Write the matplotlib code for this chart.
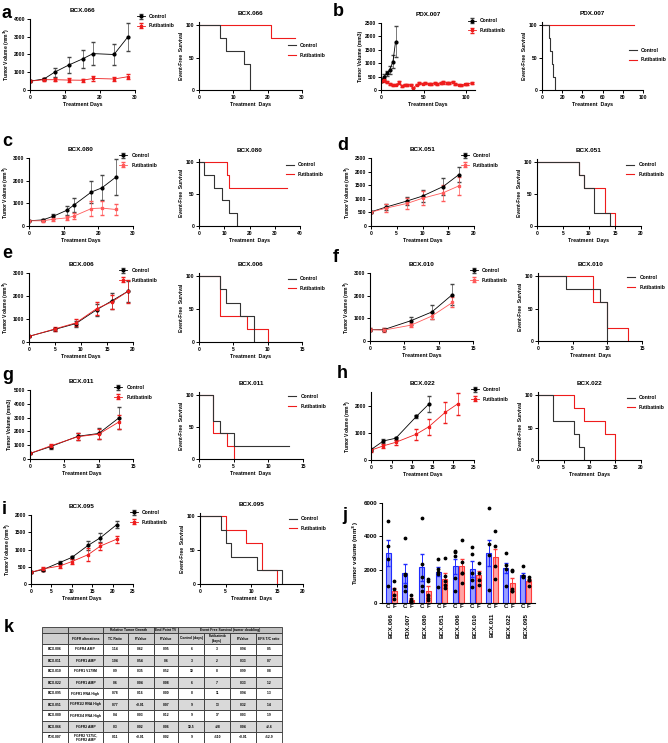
import numpy as np
import matplotlib.pyplot as plt
from matplotlib.transforms import blended_transform_factory

plt.rcParams['font.family'] = ['Liberation Sans', 'DejaVu Sans']
plt.rcParams['font.weight'] = 'bold'
plt.rcParams['axes.labelweight'] = 'bold'
plt.rcParams['axes.titleweight'] = 'bold'

W, H = 668, 743
RED = '#ee1c1c'
PINK = '#ff5a5a'

# ---- a: BCX.066
a_days = [0, 4, 7, 11, 15, 18, 24, 28]
a_ctrl = [500, 620, 1000, 1400, 1750, 2050, 2000, 3000]
a_ctrl_err = [50, 80, 250, 450, 500, 650, 600, 800]
a_futi = [500, 580, 580, 560, 550, 650, 620, 750]
a_futi_err = [50, 80, 100, 100, 80, 120, 120, 150]
a_km_ct = [0, 6, 8, 13, 15]
a_km_cs = [100, 80, 60, 40, 0]
a_km_ft = [0, 21, 28]
a_km_fs = [100, 80, 80]

# ---- b: PDX.007
b_days_c = [0, 3, 7, 10, 14, 17]
b_ctrl = [330, 480, 620, 750, 1060, 1800]
b_ctrl_err = [50, 100, 100, 150, 250, 580]
b_days_f = [0, 3, 7, 10, 14, 17, 21, 24, 28, 31, 35, 38, 42, 45, 49, 52, 56,
            59, 63, 66, 70, 73, 77, 80, 84, 87, 91, 94, 98, 101, 106]
b_futi = [330, 360, 300, 220, 190, 200, 280, 150, 200, 180, 200, 80, 200, 250,
          240, 250, 240, 230, 250, 220, 270, 280, 260, 260, 300, 230, 200, 170,
          210, 220, 260]
b_futi_err = [40, 50, 40, 30, 30, 30, 40, 30, 30, 30, 30, 20, 30, 30, 30, 30,
              30, 30, 30, 30, 40, 40, 30, 30, 40, 30, 30, 30, 30, 30, 40]
b_km_ct = [0, 7, 8, 10, 11, 13]
b_km_cs = [100, 80, 60, 40, 20, 0]
b_km_ft = [0, 91]
b_km_fs = [100, 100]

# ---- c: BCX.080
c_days = [0, 4, 7, 11, 13, 18, 21, 25]
c_ctrl = [230, 270, 430, 700, 930, 1500, 1680, 2150]
c_ctrl_err = [30, 50, 100, 200, 300, 500, 550, 800]
c_futi = [230, 230, 300, 360, 440, 770, 790, 730]
c_futi_err = [30, 40, 80, 100, 150, 350, 300, 250]
c_km_ct = [0, 2, 6, 9, 12, 15]
c_km_cs = [100, 80, 60, 40, 20, 0]
c_km_ft = [0, 11, 12, 35]
c_km_fs = [100, 80, 60, 60]

# ---- d: BCX.051
d_days = [0, 3, 7, 10, 14, 17]
d_ctrl = [520, 700, 920, 1100, 1450, 1880]
d_ctrl_err = [30, 120, 150, 220, 300, 280]
d_futi = [510, 660, 830, 1020, 1220, 1470]
d_futi_err = [30, 150, 200, 250, 300, 330]
d_km_ct = [0, 8, 9, 11, 14]
d_km_cs = [100, 80, 60, 20, 0]
d_km_ft = [0, 8, 9, 13, 15]
d_km_fs = [100, 80, 60, 20, 0]

# ---- e: BCX.006
e_days = [0, 5, 9, 13, 16, 19]
e_ctrl = [250, 550, 800, 1400, 1800, 2200]
e_ctrl_err = [30, 80, 130, 250, 350, 450]
e_futi = [240, 570, 830, 1450, 1750, 2200]
e_futi_err = [30, 80, 150, 280, 300, 500]
e_km_ct = [0, 3, 4, 6, 8]
e_km_cs = [100, 80, 60, 40, 0]
e_km_ft = [0, 3, 7, 10]
e_km_fs = [100, 40, 20, 0]

# ---- f: BCX.010
f_days = [0, 2, 6, 9, 12]
f_ctrl = [500, 500, 900, 1280, 2050]
f_ctrl_err = [80, 80, 180, 300, 450]
f_futi = [500, 480, 700, 1100, 1700]
f_futi_err = [80, 80, 80, 150, 220]
f_km_ct = [0, 4, 9, 10]
f_km_cs = [100, 80, 60, 0]
f_km_ft = [0, 8, 10, 13]
f_km_fs = [100, 60, 20, 0]

# ---- g: BCX.011
g_days = [0, 3, 7, 10, 13]
g_ctrl = [400, 900, 1650, 1850, 3000]
g_ctrl_err = [50, 150, 250, 400, 800]
g_futi = [400, 950, 1620, 1800, 2700]
g_futi_err = [50, 120, 250, 350, 500]
g_km_ct = [0, 2, 3, 5, 13]
g_km_cs = [100, 60, 40, 20, 20]
g_km_ft = [0, 2, 4, 5]
g_km_fs = [100, 40, 20, 0]

# ---- h: BCX.022
h_days_c = [0, 3, 6, 11, 14]
h_ctrl = [380, 700, 800, 1600, 2050]
h_ctrl_err = [50, 60, 60, 60, 300]
h_days_f = [0, 3, 6, 11, 14, 18, 21]
h_futi = [360, 520, 650, 950, 1220, 1750, 2060]
h_futi_err = [50, 80, 100, 200, 300, 400, 420]
h_km_ct = [0, 3, 7, 8, 9]
h_km_cs = [100, 60, 40, 20, 0]
h_km_ft = [0, 7, 9, 13, 15]
h_km_fs = [100, 80, 60, 40, 0]

# ---- i: BCX.095
i_days = [0, 3, 7, 10, 14, 17, 21]
i_ctrl = [340, 420, 620, 770, 1120, 1340, 1720]
i_ctrl_err = [30, 40, 40, 50, 120, 130, 110]
i_futi = [340, 440, 520, 650, 850, 1100, 1300]
i_futi_err = [30, 50, 60, 80, 180, 100, 100]
i_km_ct = [0, 4, 5, 6, 11, 16]
i_km_cs = [100, 80, 60, 40, 20, 0]
i_km_ft = [0, 5, 9, 12, 15]
i_km_fs = [100, 80, 60, 20, 0]

# ---- j: end point tumor volume
j_models = ['BCX.066', 'PDX.007', 'BCX.080', 'BCX.051', 'BCX.006',
            'BCX.010', 'BCX.011', 'BCX.022', 'BCX.095']
j_ctrl_mean = [3000, 1800, 2150, 1880, 2200, 2050, 3000, 2080, 1700]
j_ctrl_err = [800, 570, 800, 280, 450, 480, 800, 300, 110]
j_futi_mean = [730, 200, 720, 1470, 2200, 1700, 2750, 1230, 1350]
j_futi_err = [200, 100, 300, 330, 450, 220, 500, 300, 100]
j_ctrl_pts = [[4950, 3400, 2650, 1000], [3900, 1750, 1700, 1000, 700],
              [5100, 2350, 1550, 1000, 750], [2650, 2050, 1850, 1750, 950],
              [3150, 3050, 2800, 1500, 700], [3350, 2950, 1800, 1400, 950],
              [5700, 3550, 2900, 800], [3000, 2300, 2050, 1050],
              [2200, 1650, 1600, 1550]]
j_futi_pts = [[1350, 850, 500, 250], [480, 250, 150, 100, 50],
              [1450, 1350, 500, 300, 200], [2700, 1600, 1300, 1100, 900],
              [3800, 2450, 1800, 1800, 1200], [2400, 1800, 1400, 1100],
              [4300, 3400, 2200, 1450], [2000, 1900, 850, 750, 700],
              [1550, 1400, 1400, 1000]]

# ---- k: table
k_group_head = ['', '', 'Relative Tumor Growth', 'End Point TV',
                'Event Free Survival (tumor doubling)']
k_head = ['', 'FGFR alterations', 'TC Ratio', 'P-Value', 'P-Value',
          'Control (days)', 'Futibatinib\n(days)', 'P-Value', 'EFS T/C ratio']
k_rows = [
    ['BCX.006', 'FGFR4 AMP', '1.14', '0.62', '0.95', '6', '3', '0.94', '0.5'],
    ['BCX.011', 'FGFR1 AMP', '1.04', '0.54', '0.6', '3', '2', '0.33', '0.7'],
    ['BCX.010', 'FGFR1 V179M', '0.9', '0.35', '0.52', '10', '8', '0.99', '0.8'],
    ['BCX.022', 'FGFR1 AMP', '0.6', '0.04', '0.08', '6', '7', '0.33', '1.2'],
    ['BCX.095', 'FGFR1 RNA High', '0.78', '0.16', '0.00', '8', '11', '0.94', '1.3'],
    ['BCX.051', 'FGFR1/2 RNA High', '0.77', '<0.01', '0.07', '9', '13', '0.32', '1.4'],
    ['BCX.080', 'FGFR3/4 RNA High', '0.4', '0.03', '0.12', '9', '17', '0.03', '1.9'],
    ['BCX.066', 'FGFR2 AMP', '0.3', '0.02', '0.06', '10.5', '>28', '0.04', '>2.6'],
    ['PDX.007', 'FGFR2 Y375C,\nFGFR2 AMP', '0.11', '<0.01', '0.02', '9', '>110', '<0.01', '>12.9'],
]
k_col_px = [26, 35, 25, 26, 25, 26, 26, 26, 26]


def box(x0, y0, x1, y1):
    return [x0 / W, 1 - y1 / H, (x1 - x0) / W, (y1 - y0) / H]


def style(ax, fs=3.6):
    for s in ['top', 'right']:
        ax.spines[s].set_visible(False)
    for s in ['left', 'bottom']:
        ax.spines[s].set_linewidth(0.8)
    ax.tick_params(direction='out', length=2, width=0.7, labelsize=fs, pad=1.5)


def tumor(ax, title, dc, yc, ec, df, yf, ef, xmax, xstep, ymax, ystep,
          ylab='Tumor Volume (mm$^3$)', fcol=RED, legx=0.78):
    ax.errorbar(dc, yc, yerr=ec, color='k', marker='o', ms=2, lw=0.6,
                elinewidth=0.5, ecolor='#444444', capsize=1.2, label='Control')
    ax.errorbar(df, yf, yerr=ef, color=fcol, marker='s', ms=2, lw=0.6,
                elinewidth=0.5, capsize=1.2, label='Futibatinib')
    ax.set_xlim(0, xmax)
    ax.set_ylim(0, ymax)
    ax.set_xticks(np.arange(0, xmax + 0.1, xstep))
    ax.set_yticks(np.arange(0, ymax + 1, ystep))
    ax.set_title(title, fontsize=4.6, pad=5)
    ax.set_xlabel('Treatment Days', fontsize=3.8, labelpad=1.5)
    ax.set_ylabel(ylab, fontsize=3.6, labelpad=1.5)
    style(ax)
    ax.legend(loc='upper left', bbox_to_anchor=(legx, 1.1), frameon=False,
              fontsize=3.6, handlelength=1.6, borderaxespad=0, labelspacing=0.9)


def km(ax, title, tc, sc, tf, sf, xmax, xstep, fcol=RED, legy=0.95):
    ax.step(tf, sf, where='post', color=fcol, lw=0.8, label='Futibatinib')
    ax.step(tc, sc, where='post', color='#333333', lw=0.8, label='Control')
    ax.set_xlim(0, xmax)
    ax.set_ylim(0, 105)
    ax.set_xticks(np.arange(0, xmax + 0.1, xstep))
    ax.set_yticks([0, 50, 100])
    ax.set_title(title, fontsize=4.6, pad=5)
    ax.set_xlabel('Treatment  Days', fontsize=3.8, labelpad=1.5)
    ax.set_ylabel('Event-Free  Survival', fontsize=3.6, labelpad=1.5)
    style(ax)
    hs, ls = ax.get_legend_handles_labels()
    ax.legend(hs[::-1], ls[::-1], loc='upper left', bbox_to_anchor=(0.84, legy),
              frameon=False, fontsize=3.6, handlelength=1.6, borderaxespad=0,
              labelspacing=0.9)


fig = plt.figure(figsize=(W / 100, H / 100), dpi=100)

# a
tumor(fig.add_axes(box(30, 19, 135, 90)), 'BCX.066', a_days, a_ctrl, a_ctrl_err,
      a_days, a_futi, a_futi_err, 30, 10, 4000, 1000, legx=1.0)
km(fig.add_axes(box(199, 22, 302, 90)), 'BCX.066', a_km_ct, a_km_cs,
   a_km_ft, a_km_fs, 30, 10, legy=0.72)
# b
tumor(fig.add_axes(box(381, 23, 475, 90)), 'PDX.007', b_days_c, b_ctrl, b_ctrl_err,
      b_days_f, b_futi, b_futi_err, 110, 50, 2500, 500,
      ylab='Tumor Volume (mm3)', legx=0.9)
km(fig.add_axes(box(542, 22, 643, 90)), 'PDX.007', b_km_ct, b_km_cs,
   b_km_ft, b_km_fs, 100, 20, legy=0.65)
# c
tumor(fig.add_axes(box(29, 158, 133, 226)), 'BCX.080', c_days, c_ctrl, c_ctrl_err,
      c_days, c_futi, c_futi_err, 30, 10, 3000, 1000, fcol=PINK, legx=0.85)
km(fig.add_axes(box(199, 159, 300, 226)), 'BCX.080', c_km_ct, c_km_cs,
   c_km_ft, c_km_fs, 40, 10, legy=0.98)
# d
tumor(fig.add_axes(box(371, 158, 474, 226)), 'BCX.051', d_days, d_ctrl, d_ctrl_err,
      d_days, d_futi, d_futi_err, 20, 5, 2500, 500, fcol=PINK, legx=0.85)
km(fig.add_axes(box(537, 159, 641, 226)), 'BCX.051', d_km_ct, d_km_cs,
   d_km_ft, d_km_fs, 20, 5, legy=0.98)
# e
tumor(fig.add_axes(box(29, 273, 133, 342)), 'BCX.006', e_days, e_ctrl, e_ctrl_err,
      e_days, e_futi, e_futi_err, 20, 5, 3000, 1000, legx=0.85)
km(fig.add_axes(box(199, 273, 302, 342)), 'BCX.006', e_km_ct, e_km_cs,
   e_km_ft, e_km_fs, 15, 5, legy=0.98)
# f
tumor(fig.add_axes(box(370, 273, 473, 341)), 'BCX.010', f_days, f_ctrl, f_ctrl_err,
      f_days, f_futi, f_futi_err, 15, 5, 3000, 1000, fcol=PINK, legx=0.95)
km(fig.add_axes(box(538, 273, 642, 341)), 'BCX.010', f_km_ct, f_km_cs,
   f_km_ft, f_km_fs, 15, 5, legy=1.0)
# g
tumor(fig.add_axes(box(30, 390, 133, 459)), 'BCX.011', g_days, g_ctrl, g_ctrl_err,
      g_days, g_futi, g_futi_err, 15, 5, 5000, 1000,
      ylab='Tumor Volume (mm3)', legx=0.8)
km(fig.add_axes(box(199, 392, 303, 459)), 'BCX.011', g_km_ct, g_km_cs,
   g_km_ft, g_km_fs, 15, 5, legy=1.0)
# h
tumor(fig.add_axes(box(371, 392, 474, 460)), 'BCX.022', h_days_c, h_ctrl, h_ctrl_err,
      h_days_f, h_futi, h_futi_err, 25, 5, 2500, 1000, legx=0.95)
km(fig.add_axes(box(538, 392, 641, 460)), 'BCX.022', h_km_ct, h_km_cs,
   h_km_ft, h_km_fs, 20, 5, legy=0.98)
# i
tumor(fig.add_axes(box(31, 515, 133, 584)), 'BCX.095', i_days, i_ctrl, i_ctrl_err,
      i_days, i_futi, i_futi_err, 25, 5, 2000, 500, legx=0.95)
km(fig.add_axes(box(200, 513, 303, 584)), 'BCX.095', i_km_ct, i_km_cs,
   i_km_ft, i_km_fs, 20, 5, legy=0.98)

# j
axj = fig.add_axes(box(382, 503, 535, 603))
xg = np.arange(len(j_models))
xc, xf = xg - 0.19, xg + 0.19
axj.bar(xc, j_ctrl_mean, 0.3, color='#9aa0ff', edgecolor='#1f2bff', lw=0.8)
axj.bar(xf, j_futi_mean, 0.3, color='#ffa3a3', edgecolor='#ff3b3b', lw=0.8)
axj.errorbar(xc, j_ctrl_mean, yerr=j_ctrl_err, fmt='none', ecolor='#1f2bff',
             elinewidth=0.7, capsize=1.5)
axj.errorbar(xf, j_futi_mean, yerr=j_futi_err, fmt='none', ecolor='#ff3b3b',
             elinewidth=0.7, capsize=1.5)
for k in range(len(j_models)):
    axj.scatter(np.full(len(j_ctrl_pts[k]), xc[k]), j_ctrl_pts[k], s=3, color='k', zorder=3)
    axj.scatter(np.full(len(j_futi_pts[k]), xf[k]), j_futi_pts[k], s=3, color='k', zorder=3)
axj.set_xlim(-0.55, len(j_models) - 0.45)
axj.set_ylim(0, 6000)
axj.set_yticks([0, 2000, 4000, 6000])
axj.set_xticks(np.concatenate([xc, xf]))
axj.set_xticklabels(['C'] * len(xc) + ['F'] * len(xf))
axj.set_ylabel('Tumor volume (mm$^3$)', fontsize=4.4, labelpad=2)
style(axj, fs=4.4)
axj.tick_params(axis='x', length=0, pad=1)
tr = blended_transform_factory(axj.transData, axj.transAxes)
for k, name in enumerate(j_models):
    axj.text(xg[k], -0.1, name, rotation=90, ha='center', va='top',
             fontsize=4.4, transform=tr)

# k
axk = fig.add_axes(box(42, 627, 282, 743))
axk.axis('off')
cw = np.array(k_col_px) / sum(k_col_px)
top_w = [cw[0], cw[1], cw[2] + cw[3], cw[4], cw[5:].sum()]
t1 = axk.table(cellText=[k_group_head], colWidths=top_w, cellLoc='center',
               bbox=[0, 1 - 6 / 116, 1, 6 / 116],
               cellColours=[['#bfbfbf'] * 5])
body = [k_head] + k_rows
colors = [['#d0d0d0'] * 9] + [[('#d9d9d9' if r % 2 == 1 else 'white')] * 9
                              for r in range(len(k_rows))]
t2 = axk.table(cellText=body, colWidths=cw, cellLoc='center',
               bbox=[0, 0, 1, 1 - 6 / 116], cellColours=colors)
for t in (t1, t2):
    t.auto_set_font_size(False)
    t.set_fontsize(2.4)
    for cell in t.get_celld().values():
        cell.set_linewidth(0.6)
        cell.set_edgecolor('#333333')
for (r, c), cell in t2.get_celld().items():
    if c <= 1 and r > 0:
        cell._loc = 'left'
        cell.PAD = 0.05

# panel letters
for lab, x, y in [('a', 2, 14), ('b', 333, 12), ('c', 2, 142), ('d', 337, 146),
                  ('e', 2, 254), ('f', 333, 257), ('g', 2, 375), ('h', 337, 374),
                  ('i', 2, 510), ('j', 342, 516), ('k', 4, 628)]:
    fig.text(x / W, 1 - y / H, lab, fontsize=13, fontweight='bold', va='center')

fig.savefig('out.png', dpi=100)
